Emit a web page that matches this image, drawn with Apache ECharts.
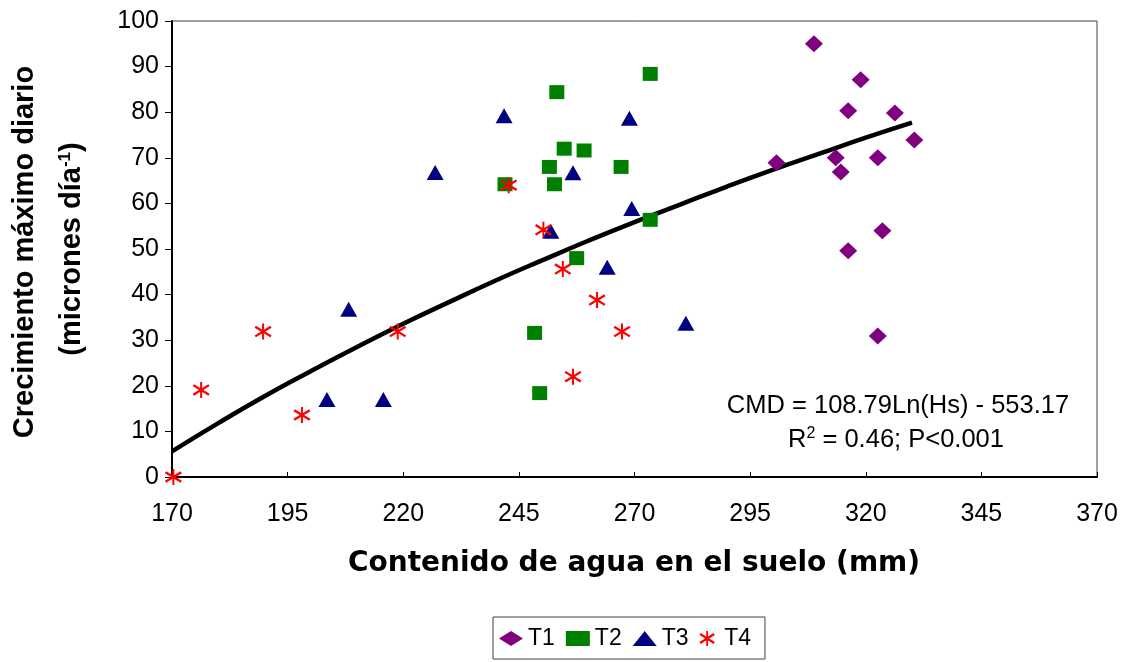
<!DOCTYPE html>
<html>
<head>
<meta charset="utf-8">
<title>Crecimiento máximo diario</title>
<script src="https://cdn.jsdelivr.net/npm/echarts@6/dist/echarts.min.js"></script>
<style>
  html, body { margin: 0; padding: 0; background: #fff; }
  #chart { width: 1130px; height: 662px; }
</style>
</head>
<body>
<div id="chart"></div>
<script>
// contenido de agua (mm) -> crecimiento maximo diario, por tratamiento
var t1X = [308.8, 318.9, 316.2, 326.3, 330.5, 300.7, 313.5, 322.6, 314.6, 323.6, 316.2, 322.6];
var t1Y = [95.0, 87.1, 80.3, 79.8, 73.9, 68.9, 70.0, 70.0, 66.9, 54.0, 49.6, 30.9];

var t2X = [273.4, 253.2, 254.8, 259.1, 251.6, 267.1, 252.7, 242.0, 273.4, 257.5, 248.4, 249.5];
var t2Y = [88.4, 84.4, 72.0, 71.6, 68.0, 68.0, 64.2, 64.2, 56.4, 48.0, 31.6, 18.4];

var t3X = [226.9, 208.2, 203.5, 215.7, 241.8, 268.9, 256.7, 269.4, 251.9, 264.1, 281.1];
var t3Y = [66.8, 36.8, 17.0, 17.0, 79.2, 78.7, 66.7, 58.9, 53.9, 46.0, 33.7];

var t4X = [170.3, 176.3, 189.7, 198.1, 218.8, 242.8, 250.3, 254.5, 261.9, 267.3, 256.7];
var t4Y = [0, 19.1, 31.9, 13.6, 31.9, 64.0, 54.2, 45.6, 38.8, 31.9, 22.0];

// linea de tendencia (logaritmica)
var trendX = [170, 180, 190, 200, 210, 220, 230, 240, 250, 260, 270, 280, 290, 300, 310, 320, 330];
var trendY = [5.6, 11.8, 17.7, 23.2, 28.5, 33.6, 38.4, 43.1, 47.5, 51.8, 55.9, 59.8, 63.7, 67.4, 70.9, 74.4, 77.7];

var xTicks = [170, 195, 220, 245, 270, 295, 320, 345, 370];
var yTicks = [0, 10, 20, 30, 40, 50, 60, 70, 80, 90, 100];

var names = ['T1', 'T2', 'T3', 'T4'];

function pairs(xs, ys) {
    var out = [];
    xs.forEach(function (x, i) { out.push([x, ys[i]]); });
    return out;
}

var FONT = '"Liberation Sans", Arial, Helvetica, sans-serif';
// asterisco rojo (tres trazos)
var starPath = 'path://M44 0 L56 0 L56 100 L44 100 Z ' +
    'M6.8 14.1 L100.8 74.1 L93.2 85.9 L-0.8 25.9 Z ' +
    'M-0.8 74.1 L93.2 14.1 L100.8 25.9 L6.8 85.9 Z';

var chart = echarts.init(document.getElementById('chart'));

chart.setOption({
    animation: false,
    backgroundColor: '#fff',
    grid: {
        left: 172, right: 33, top: 21, bottom: 185,
        show: true, borderColor: '#404040', borderWidth: 1
    },
    xAxis: {
        type: 'value',
        min: xTicks[0],
        max: xTicks[xTicks.length - 1],
        interval: xTicks[1] - xTicks[0],
        axisLine: { lineStyle: { color: '#000', width: 2 } },
        axisTick: { inside: true, length: 5, lineStyle: { color: '#000', width: 1 } },
        axisLabel: { color: '#000', fontSize: 25, fontFamily: FONT, margin: 25 },
        splitLine: { show: false }
    },
    yAxis: {
        type: 'value',
        min: yTicks[0],
        max: yTicks[yTicks.length - 1],
        interval: yTicks[1] - yTicks[0],
        axisLine: { lineStyle: { color: '#000', width: 2 } },
        axisTick: { inside: false, length: 7, lineStyle: { color: '#000', width: 1 } },
        axisLabel: { color: '#000', fontSize: 25, fontFamily: FONT, margin: 13 },
        splitLine: { show: false }
    },
    legend: {
        data: names,
        left: 493,
        top: 617,
        orient: 'horizontal',
        padding: [10, 14, 9, 6],
        itemGap: 11,
        itemWidth: 24,
        itemHeight: 15,
        borderColor: '#404040',
        borderWidth: 1,
        selectedMode: false,
        textStyle: { color: '#000', fontSize: 23, fontFamily: FONT }
    },
    graphic: [
        {
            type: 'text', x: 25, y: 252, rotation: Math.PI / 2,
            style: {
                text: 'Crecimiento máximo diario',
                fontSize: 29, fontWeight: 'bold', fontFamily: FONT,
                fill: '#000', align: 'center', verticalAlign: 'middle'
            }
        },
        {
            type: 'text', x: 72, y: 249, rotation: Math.PI / 2,
            style: {
                text: '(micrones día{sup|-1})',
                fontSize: 29, fontWeight: 'bold', fontFamily: FONT, lineHeight: 30,
                fill: '#000', align: 'center', verticalAlign: 'middle',
                rich: {
                    sup: { fontSize: 17, fontWeight: 'bold', fontFamily: FONT, fill: '#000', verticalAlign: 'top', lineHeight: 14 }
                }
            }
        },
        {
            type: 'text', x: 634, y: 564,
            style: {
                text: 'Contenido de agua en el suelo (mm)',
                fontSize: 28, fontWeight: 'bold', fontFamily: '"DejaVu Sans", sans-serif',
                fill: '#000', align: 'center', verticalAlign: 'middle'
            }
        },
        {
            type: 'text', x: 898, y: 406,
            style: {
                text: 'CMD = 108.79Ln(Hs) - 553.17',
                fontSize: 25.5, fontFamily: FONT,
                fill: '#000', align: 'center', verticalAlign: 'middle'
            }
        },
        {
            type: 'text', x: 896, y: 440,
            style: {
                text: 'R{sup|2} = 0.46; P<0.001',
                fontSize: 25.5, fontFamily: FONT, lineHeight: 28,
                fill: '#000', align: 'center', verticalAlign: 'middle',
                rich: {
                    sup: { fontSize: 16, fontFamily: FONT, fill: '#000', verticalAlign: 'top', lineHeight: 14 }
                }
            }
        }
    ],
    series: [
        {
            name: 'tendencia',
            type: 'line',
            data: pairs(trendX, trendY),
            showSymbol: false,
            smooth: true,
            z: 1,
            lineStyle: { color: '#000', width: 4.5 },
            silent: true
        },
        {
            name: 'T1', type: 'scatter', z: 3,
            symbol: 'diamond', symbolSize: [18, 17],
            itemStyle: { color: '#800080', opacity: 1 },
            data: pairs(t1X, t1Y)
        },
        {
            name: 'T2', type: 'scatter', z: 3,
            symbol: 'rect', symbolSize: [15, 14],
            itemStyle: { color: '#008000', opacity: 1 },
            data: pairs(t2X, t2Y)
        },
        {
            name: 'T3', type: 'scatter', z: 3,
            symbol: 'triangle', symbolSize: [17, 15],
            itemStyle: { color: '#000080', opacity: 1 },
            data: pairs(t3X, t3Y)
        },
        {
            name: 'T4', type: 'scatter', z: 4,
            symbol: starPath, symbolSize: [17, 16], clip: false,
            itemStyle: { color: '#ff0000', opacity: 1 },
            data: pairs(t4X, t4Y)
        }
    ]
});
</script>
</body>
</html>
